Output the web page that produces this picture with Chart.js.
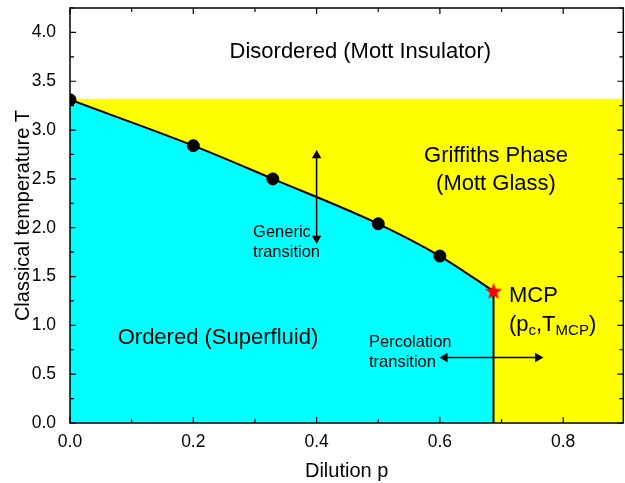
<!DOCTYPE html>
<html>
<head>
<meta charset="utf-8">
<script src="https://cdn.jsdelivr.net/npm/chart.js@4.4.0/dist/chart.umd.min.js"></script>
<style>
  html, body { margin: 0; padding: 0; background: #fff; overflow: hidden; }
  canvas { display: block; }
</style>
</head>
<body>
<canvas id="myChart" width="625" height="483"></canvas>
<script>
// transition line (dilution p, temperature T)
var pData = [0.0, 0.2, 0.329, 0.5, 0.6];
var tData = [3.31, 2.84, 2.50, 2.04, 1.71];
var pMCP = 0.687;
var tMCP = 1.35;
var tClean = 3.32;
var xTicks = [0, 0.2, 0.4, 0.6, 0.8];
var yTicks = [0, 0.5, 1.0, 1.5, 2.0, 2.5, 3.0, 3.5, 4.0];
var xMax = 0.8975;
var yMax = 4.25;

var FONT = "'Liberation Sans', Arial, sans-serif";

var curve = pData.map(function(p, i) { return {x: p, y: tData[i]}; });
curve.push({x: pMCP, y: tMCP});

// red filled star for the MCP
var star = document.createElement('canvas');
star.width = 20; star.height = 20;
(function() {
  var c = star.getContext('2d');
  c.fillStyle = '#ff0000';
  c.beginPath();
  for (var i = 0; i < 10; i++) {
    var r = i % 2 === 0 ? 9 : 3.8;
    var a = -Math.PI / 2 + i * Math.PI / 5;
    var px = 10 + r * Math.cos(a), py = 10.5 + r * Math.sin(a);
    if (i === 0) c.moveTo(px, py); else c.lineTo(px, py);
  }
  c.closePath();
  c.fill();
})();

var labelsPlugin = {
  id: 'labels',
  afterDatasetsDraw: function(chart) {
    var ctx = chart.ctx;
    var xs = chart.scales.x, ys = chart.scales.y;
    function X(v) { return xs.getPixelForValue(v); }
    function Y(v) { return ys.getPixelForValue(v); }
    var ca = chart.chartArea;

    ctx.save();
    ctx.fillStyle = '#000';
    ctx.textBaseline = 'middle';

    ctx.font = '22px ' + FONT;
    ctx.textAlign = 'center';
    ctx.fillText('Disordered (Mott Insulator)', X(0.471), Y(3.80));
    ctx.fillText('Griffiths Phase', X(0.691), Y(2.74));
    ctx.fillText('(Mott Glass)', X(0.691), Y(2.45));
    ctx.fillText('Ordered (Superfluid)', X(0.240), Y(0.87));

    ctx.textAlign = 'left';
    ctx.fillText('MCP', X(0.712), Y(1.30));
    // (p_c, T_MCP)
    var x0 = X(0.712), y0 = Y(1.0);
    ctx.font = '22px ' + FONT;
    ctx.fillText('(p', x0, y0); x0 += ctx.measureText('(p').width;
    ctx.font = '15px ' + FONT;
    ctx.fillText('c', x0, y0 + 6); x0 += ctx.measureText('c').width;
    ctx.font = '22px ' + FONT;
    ctx.fillText(',T', x0, y0); x0 += ctx.measureText(',T').width;
    ctx.font = '15px ' + FONT;
    ctx.fillText('MCP', x0, y0 + 6); x0 += ctx.measureText('MCP').width;
    ctx.font = '22px ' + FONT;
    ctx.fillText(')', x0, y0);

    ctx.font = '16.5px ' + FONT;
    ctx.fillText('Generic', X(0.297), Y(1.955));
    ctx.fillText('transition', X(0.297), Y(1.75));
    ctx.fillText('Percolation', X(0.485), Y(0.825));
    ctx.fillText('transition', X(0.485), Y(0.62));

    // frame and inward ticks on all four sides
    ctx.strokeStyle = '#000';
    ctx.lineWidth = 1.5;
    ctx.strokeRect(ca.left, ca.top, ca.right - ca.left, ca.bottom - ca.top);
    ctx.lineWidth = 1.2;
    ctx.beginPath();
    for (var v = 0; v <= xMax + 1e-9; v += 0.1) {
      var px = X(v);
      var major = Math.abs(Math.round(v * 10) % 2) === 0;
      var len = major ? 6 : 4;
      ctx.moveTo(px, ca.bottom); ctx.lineTo(px, ca.bottom - len);
      ctx.moveTo(px, ca.top); ctx.lineTo(px, ca.top + len);
    }
    for (var w = 0; w <= yMax + 1e-9; w += 0.25) {
      var py = Y(w);
      var maj = Math.abs(Math.round(w * 4) % 2) === 0;
      var l2 = maj ? 6 : 4;
      ctx.moveTo(ca.left, py); ctx.lineTo(ca.left + l2, py);
      ctx.moveTo(ca.right, py); ctx.lineTo(ca.right - l2, py);
    }
    ctx.stroke();
    ctx.restore();
  }
};

var ctx = document.getElementById('myChart');
var myChart = new Chart(ctx, {
  type: 'scatter',
  data: {
    datasets: [
      {
        // transition line with ordered phase filled below
        data: curve,
        showLine: true,
        borderColor: '#000',
        borderWidth: 2,
        pointRadius: 0,
        cubicInterpolationMode: 'monotone',
        fill: 'origin',
        backgroundColor: '#00ffff',
        order: 3
      },
      {
        // clean critical temperature: Griffiths region below
        data: [{x: 0, y: tClean}, {x: xMax, y: tClean}],
        showLine: true,
        borderWidth: 0,
        borderColor: 'rgba(0,0,0,0)',
        pointRadius: 0,
        fill: 'origin',
        backgroundColor: '#ffff00',
        order: 4
      },
      {
        // percolation line
        data: [{x: pMCP, y: 0}, {x: pMCP, y: tMCP}],
        showLine: true,
        borderColor: '#000',
        borderWidth: 2,
        pointRadius: 0,
        order: 2
      },
      {
        data: curve.slice(0, pData.length),
        pointRadius: 6,
        pointBackgroundColor: '#000',
        pointBorderColor: '#000',
        order: 1
      },
      {
        data: [{x: pMCP, y: tMCP}],
        pointStyle: star,
        order: 0
      },
      {
        // generic transition arrow
        data: [{x: 0.4, y: 1.89}, {x: 0.4, y: 2.74}],
        showLine: true,
        borderColor: '#000',
        borderWidth: 1.5,
        pointStyle: 'triangle',
        pointRadius: 4,
        pointRotation: [180, 0],
        pointBackgroundColor: '#000',
        pointBorderColor: '#000',
        order: 0
      },
      {
        // percolation transition arrow
        data: [{x: 0.608, y: 0.67}, {x: 0.759, y: 0.67}],
        showLine: true,
        borderColor: '#000',
        borderWidth: 1.5,
        pointStyle: 'triangle',
        pointRadius: 4,
        pointRotation: [270, 90],
        pointBackgroundColor: '#000',
        pointBorderColor: '#000',
        order: 0
      }
    ]
  },
  options: {
    responsive: false,
    animation: false,
    layout: { autoPadding: false, padding: { top: 8, right: 1.7, left: 0, bottom: 0 } },
    plugins: { legend: { display: false }, tooltip: { enabled: false } },
    scales: {
      x: {
        type: 'linear',
        min: 0, max: xMax,
        afterBuildTicks: function(s) { s.ticks = xTicks.map(function(v) { return {value: v}; }); },
        afterFit: function(s) { s.height = 60; s.paddingLeft = 0; s.paddingRight = 0; },
        grid: { display: false },
        border: { display: false },
        ticks: {
          color: '#000', padding: 1,
          font: { family: FONT, size: 17.5 },
          callback: function(v) { return v.toFixed(1); }
        },
        title: {
          display: true, text: 'Dilution p', color: '#000',
          font: { family: FONT, size: 20 }, padding: { top: 3, bottom: 0 }
        }
      },
      y: {
        type: 'linear',
        min: 0, max: yMax,
        afterBuildTicks: function(s) { s.ticks = yTicks.map(function(v) { return {value: v}; }); },
        afterFit: function(s) { s.width = 70; s.paddingTop = 0; s.paddingBottom = 0; },
        grid: { display: false },
        border: { display: false },
        ticks: {
          color: '#000', padding: 6,
          font: { family: FONT, size: 17.5 },
          callback: function(v) { return v.toFixed(1); }
        },
        title: {
          display: true, text: 'Classical temperature T', color: '#000',
          font: { family: FONT, size: 20 }, padding: { top: 11, bottom: 0 }
        }
      }
    }
  },
  plugins: [labelsPlugin]
});
</script>
</body>
</html>
